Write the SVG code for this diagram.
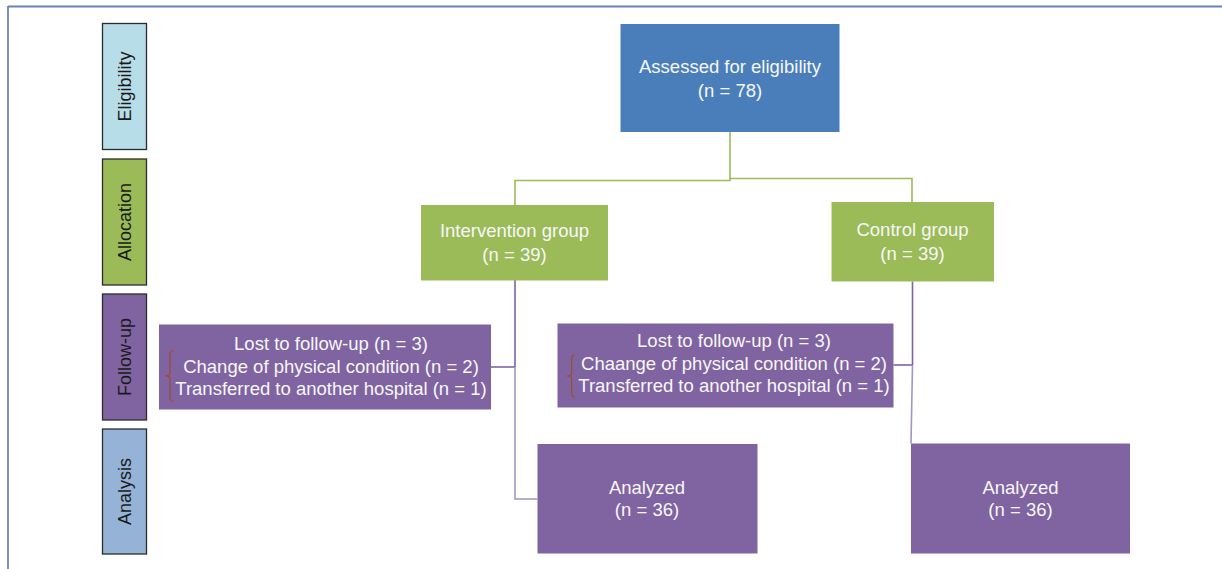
<svg xmlns="http://www.w3.org/2000/svg" width="1222" height="569" viewBox="0 0 1222 569">
<style>
.t{font-family:"Liberation Sans",Arial,sans-serif;font-size:18.5px;fill:#F7F7F7;text-anchor:middle}
.s{font-family:"Liberation Sans",Arial,sans-serif;font-size:18px;fill:#1a1a1a;text-anchor:middle}
.side{stroke:#2b2b2b;stroke-width:1.3}
.g{stroke:#9BBB59;stroke-width:1.6;fill:none}
.p{stroke:#7E62A8;stroke-width:1.6;fill:none}
.pl{stroke:#A393C8;stroke-width:1.6;fill:none}
.br{stroke:#A04A2E;stroke-width:1.2;fill:none}
</style>
<rect x="0" y="0" width="1222" height="569" fill="#FFFFFF"/>
<g id="frame">
<line x1="8" y1="6.5" x2="1222" y2="6.5" stroke="#6F80B8" stroke-width="1.8"/>
<line x1="8" y1="6" x2="8" y2="569" stroke="#6F80B8" stroke-width="1.8"/>
</g>
<g id="label-eligibility">
<rect class="side" x="102.5" y="23.5" width="44" height="126" fill="#B7DEE8"/>
<text class="s" transform="translate(124.5,86.5) rotate(-90)" dy="6.5">Eligibility</text>
</g>
<g id="label-allocation">
<rect class="side" x="102.5" y="159" width="44" height="126" fill="#9BBB59"/>
<text class="s" transform="translate(124.5,222) rotate(-90)" dy="6.5">Allocation</text>
</g>
<g id="label-followup">
<rect class="side" x="102.5" y="294" width="44" height="126" fill="#8064A2"/>
<text class="s" transform="translate(124.5,357) rotate(-90)" dy="6.5">Follow-up</text>
</g>
<g id="label-analysis">
<rect class="side" x="102.5" y="429" width="44" height="125" fill="#95B3D7"/>
<text class="s" transform="translate(124.5,491.5) rotate(-90)" dy="6.5">Analysis</text>
</g>
<g id="connectors">
<polyline class="g" points="730,132 730,180.5 515,180.5 515,205"/>
<polyline class="g" points="730,178.5 912,178.5 912,202"/>
<line class="p" x1="515" y1="280" x2="515" y2="367"/>
<line class="p" x1="491" y1="367" x2="515" y2="367"/>
<polyline class="pl" points="515,367 515,499 537.5,499"/>
<line class="p" x1="912.5" y1="281.5" x2="912.5" y2="365"/>
<line class="p" x1="893.5" y1="365" x2="912.5" y2="365"/>
<line class="pl" x1="912.5" y1="365" x2="911" y2="443.5"/>
</g>
<g id="assessed">
<rect x="620.5" y="24" width="219" height="108" fill="#4A7EBB"/>
<text class="t" x="730" y="72.5">Assessed for eligibility</text>
<text class="t" x="730" y="96.5">(n = 78)</text>
</g>
<g id="intervention">
<rect x="421" y="205" width="187" height="75.5" fill="#9BBB59"/>
<text class="t" x="514.5" y="237">Intervention group</text>
<text class="t" x="514.5" y="261">(n = 39)</text>
</g>
<g id="control">
<rect x="831.5" y="202" width="162.5" height="79.5" fill="#9BBB59"/>
<text class="t" x="912.5" y="236">Control group</text>
<text class="t" x="912.5" y="259.5">(n = 39)</text>
</g>
<g id="followup-intervention">
<rect x="159" y="324.5" width="332" height="85" fill="#8064A2"/>
<path class="br" d="M173.5,350.5 Q170,350.5 170,354 L170,372.5 Q170,375.8 165.5,375.8 Q170,375.8 170,379 L170,398 Q170,401.5 173.5,401.5"/>
<text class="t" x="331" y="350">Lost to follow-up (n = 3)</text>
<text class="t" x="331" y="372.5">Change of physical condition (n = 2)</text>
<text class="t" x="331" y="395">Transferred to another hospital (n = 1)</text>
</g>
<g id="followup-control">
<rect x="557.5" y="323.5" width="336" height="84" fill="#8064A2"/>
<path class="br" d="M575,355 Q571.7,355 571.7,358.5 L571.7,373 Q571.7,376 567,376 Q571.7,376 571.7,379 L571.7,393.5 Q571.7,397 575,397"/>
<text class="t" x="734" y="347">Lost to follow-up (n = 3)</text>
<text class="t" x="734" y="369.5">Chaange of physical condition (n = 2)</text>
<text class="t" x="734" y="392">Transferred to another hospital (n = 1)</text>
</g>
<g id="analyzed-intervention">
<rect x="537.5" y="444" width="220" height="109.5" fill="#8064A2"/>
<text class="t" x="647" y="493.5">Analyzed</text>
<text class="t" x="647" y="515.5">(n = 36)</text>
</g>
<g id="analyzed-control">
<rect x="911" y="443.5" width="219" height="110" fill="#8064A2"/>
<text class="t" x="1020.5" y="493.5">Analyzed</text>
<text class="t" x="1020.5" y="515.5">(n = 36)</text>
</g>
</svg>
